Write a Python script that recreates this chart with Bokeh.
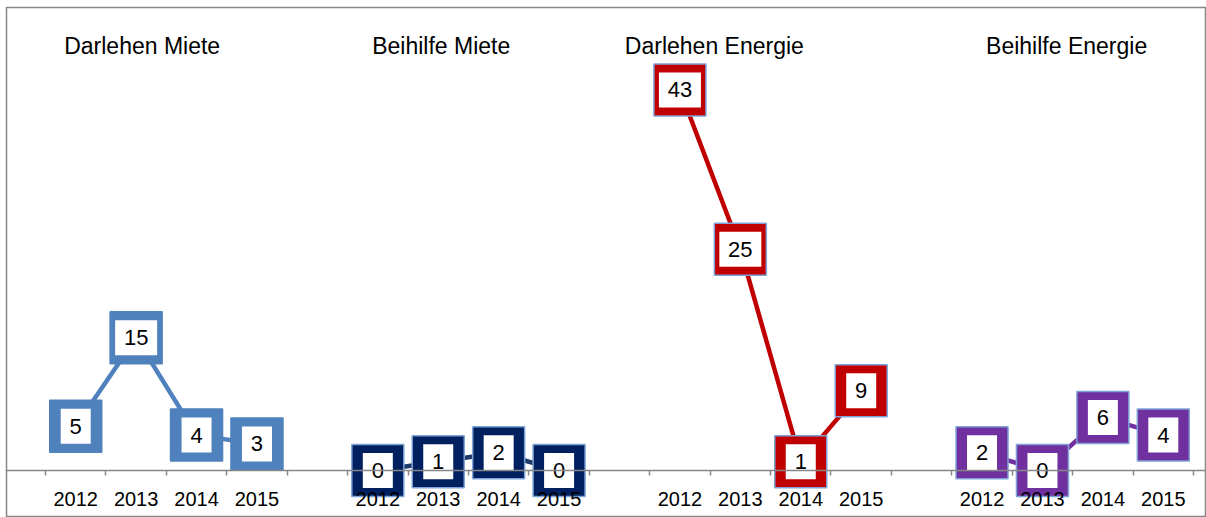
from bokeh.plotting import figure
from bokeh.models import Range1d, LinearAxis, FixedTicker, ColumnDataSource
from bokeh.core.properties import value
from bokeh.embed import file_html
from bokeh.resources import INLINE

# ---- data ----
years = ["2012", "2013", "2014", "2015"]
groups = ["Darlehen Miete", "Beihilfe Miete", "Darlehen Energie", "Beihilfe Energie"]
darlehen_miete = [5, 15, 4, 3]
beihilfe_miete = [0, 1, 2, 0]
darlehen_energie = [43, 25, 1, 9]
beihilfe_energie = [2, 0, 6, 4]
series = [darlehen_miete, beihilfe_miete, darlehen_energie, beihilfe_energie]

# ---- styles / layout ----
marker_colors = ["#4F81BD", "#002060", "#C00000", "#7030A0"]
line_colors = ["#4F81BD", "#1F3B6B", "#C00000", "#7030A0"]
outline_colors = ["#4F81BD", "#7EA3D6", "#7EA3D6", "#7EA3D6"]
title_shift = [-0.4, -0.45, -0.93, -0.1]
slot = len(years) + 1  # one blank slot between groups
FONT = value("Liberation Sans")

p = figure(width=1206, height=517,
           x_range=Range1d(-0.6455, 19.215), y_range=Range1d(-5.31, 52.32),
           output_backend="svg", toolbar_location=None,
           x_axis_location=None, y_axis_location=None,
           min_border_left=6, min_border_top=7, min_border_right=0, min_border_bottom=0)
p.grid.visible = False
p.outline_line_color = "#868686"
p.outline_line_width = 1.5

centers = []
overrides = {}
for g in range(len(groups)):
    for i, yr in enumerate(years):
        c = g * slot + i + 0.5
        centers.append(c)
        overrides[c] = yr
boundaries = [g * slot + i for g in range(len(groups)) for i in range(len(years) + 1)]

axis = LinearAxis(ticker=FixedTicker(ticks=centers, minor_ticks=boundaries),
                  fixed_location=0)
axis.major_label_overrides = overrides
axis.axis_line_color = "#868686"
axis.axis_line_width = 1.5
axis.major_tick_in = 0
axis.major_tick_out = 0
axis.minor_tick_in = 0
axis.minor_tick_out = 5
axis.minor_tick_line_color = "#868686"
axis.minor_tick_line_width = 1.5
axis.major_label_standoff = 16
axis.major_label_text_font = "Liberation Sans"
axis.major_label_text_font_size = "20px"
axis.major_label_text_color = "#000000"
p.add_layout(axis, "below")

for g, vals in enumerate(series):
    xs = [g * slot + i + 0.5 for i in range(len(years))]
    labels = [str(v) for v in vals]
    src = ColumnDataSource(dict(x=xs, y=vals, label=labels,
                                w=[18 + 12 * len(s) for s in labels]))
    p.line("x", "y", source=src, line_color=line_colors[g], line_width=4.5)
    p.scatter("x", "y", source=src, marker="square", size=52,
              fill_color=marker_colors[g], line_color=outline_colors[g], line_width=1.5)
    p.rect("x", "y", width="w", height=35, width_units="screen", height_units="screen",
           source=src, fill_color="white", line_color=None)
    p.text("x", "y", text="label", source=src, text_font=FONT, text_font_size="22px",
           text_align="center", text_baseline="middle", text_color="#000000")

tsrc = ColumnDataSource(dict(
    x=[g * slot + len(years) / 2 + title_shift[g] for g in range(len(groups))],
    y=[48.0] * len(groups), t=groups))
p.text("x", "y", text="t", source=tsrc, text_font=FONT, text_font_size="23px",
       text_align="center", text_baseline="middle", text_color="#000000")

open("out.html", "w").write(file_html(p, INLINE))
